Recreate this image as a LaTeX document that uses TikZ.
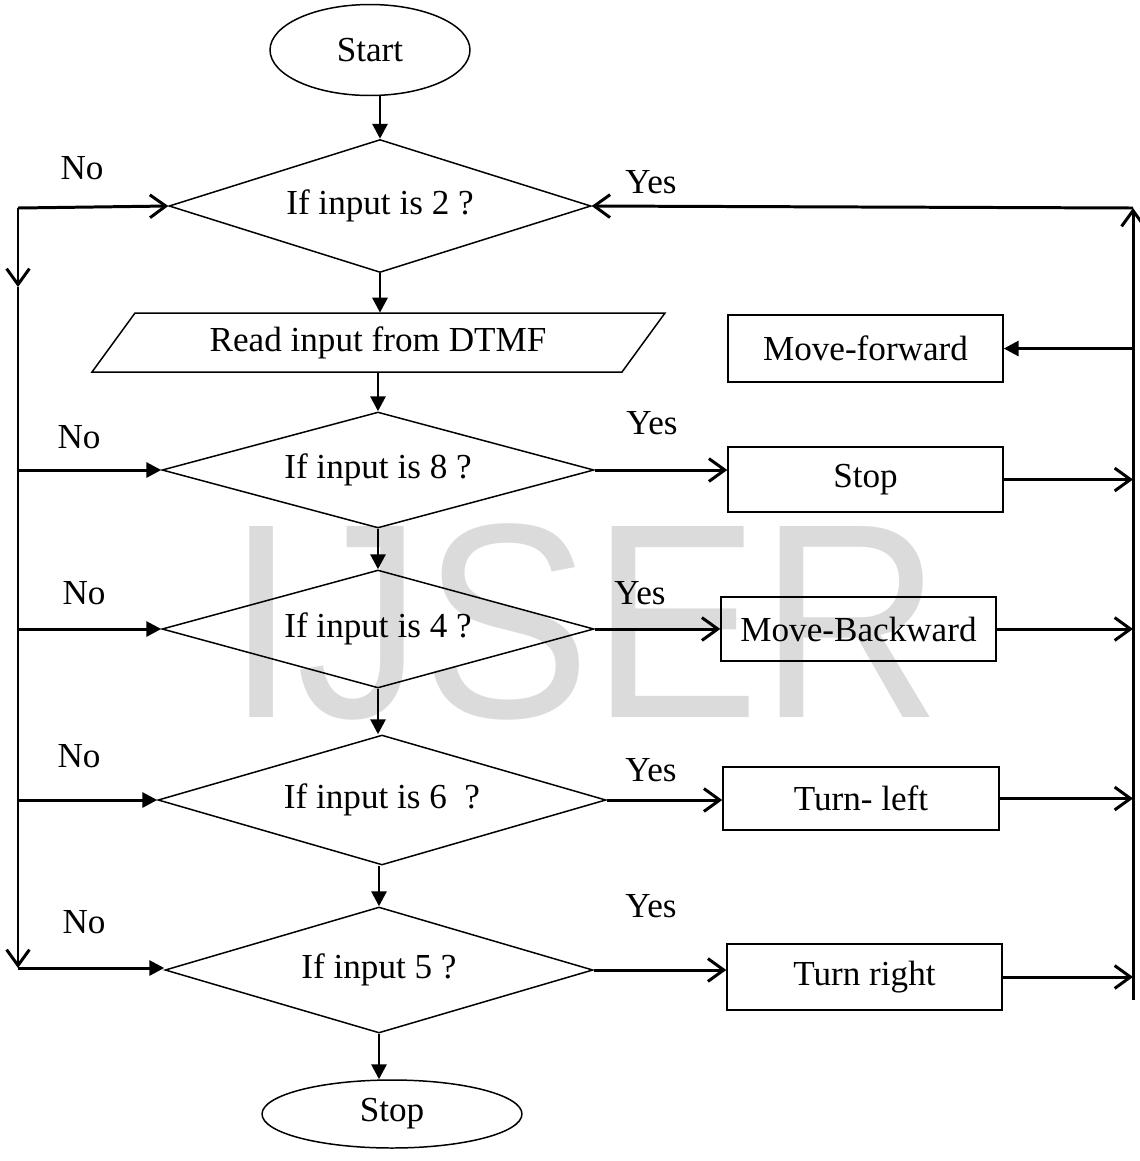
\documentclass[tikz,border=0pt]{standalone}
\usepackage{fontspec}
\setmainfont{Liberation Serif}
\newfontfamily\wmfont{Liberation Sans}
\usetikzlibrary{shapes.geometric,arrows.meta}
\begin{document}
\begin{tikzpicture}[x=0.02cm,y=-0.02cm,
  every node/.style={font=\fontsize{20}{23}\selectfont},
  outline/.style={draw=black,line width=0.85pt,inner sep=0pt},
  termbox/.style={outline,ellipse},
  decbox/.style={outline,diamond,aspect=3.3},
  procbox/.style={outline,rectangle,minimum width=5.5cm},
  wire/.style={line width=1.7pt},
  openarr/.style={wire,-{Straight Barb[length=9pt,width=13pt,line width=1.7pt]}},
  fillarr/.style={wire,-{Triangle[length=8.5pt,width=8.5pt]}},
  lbl/.style={inner sep=0pt}
]
\useasboundingbox (0,0) rectangle (1140,1161);
% watermark
\node[font=\wmfont\fontsize{158}{160}\selectfont,text=black!14,inner sep=0pt,xscale=0.91] (wm) at (584,622) {IJSER};

% terminals
\node[termbox,minimum width=4cm,minimum height=1.82cm] (start) at (370,50) {Start};
\node[termbox,minimum width=5.2cm,minimum height=1.36cm] (stop) at (392,1114) {Stop};

% decisions
\node[decbox,minimum width=8.44cm,minimum height=2.66cm] (d1) at (380,206) {If input is 2 ?};
\node[decbox,minimum width=8.64cm,minimum height=2.32cm] (d2) at (378,470) {If input is 8 ?};
\node[decbox,minimum width=8.64cm,minimum height=2.36cm] (d3) at (378,629) {If input is 4 ?};
\node[decbox,minimum width=8.96cm,minimum height=2.60cm] (d4) at (382,800) {If input is 6~~?};
\node[decbox,minimum width=8.56cm,minimum height=2.52cm] (d5) at (379,970) {If input 5 ?};

% input parallelogram
\draw[line width=0.85pt] (135,313) -- (665,313) -- (622,372) -- (92,372) -- cycle;
\node[inner sep=0pt,minimum height=1.18cm] (read) at (378,342.5) {Read input from DTMF};

% process boxes
\node[procbox,minimum height=1.34cm] (mf) at (865.5,348.5) {Move-forward};
\node[procbox,minimum height=1.30cm] (sb) at (865.5,479.5) {Stop};
\node[procbox,minimum height=1.28cm] (mb) at (858.5,629) {Move-Backward};
\node[procbox,minimum width=5.52cm,minimum height=1.26cm] (tl) at (861,798.5) {Turn- left};
\node[procbox,minimum height=1.32cm] (tr) at (864.5,977) {Turn right};

% main flow
\draw[fillarr] (start.south -| d1.north) -- (d1.north);
\draw[fillarr] (d1.south) -- (d1.south |- read.north);
\draw[fillarr] (read.south) -- (d2.north);
\draw[fillarr] (d2.south) -- (d3.north);
\draw[fillarr] (d3.south) -- (d3.south |- d4.north);
\draw[fillarr] (d4.south -| d5.north) -- (d5.north);
\draw[fillarr] (d5.south) -- (d5.south |- stop.north);

% yes branches
\draw[openarr] (d2.east) -- (d2.east -| sb.west);
\draw[openarr] (d3.east) -- (d3.east -| mb.west);
\draw[openarr] (d4.east) -- (d4.east -| tl.west);
\draw[openarr] (d5.east) -- (d5.east -| tr.west);

% right bus
\coordinate (rt) at (1133,208);
\coordinate (rb) at (1133,1000);
\draw[openarr] (rb) -- (rt);
\draw[openarr] (rt) -- (d1.east);
\draw[fillarr] (mf.east -| rt) -- (mf.east);
\draw[openarr] (sb.east) -- (sb.east -| rt);
\draw[openarr] (mb.east) -- (mb.east -| rt);
\draw[openarr] (tl.east) -- (tl.east -| rt);
\draw[openarr] (tr.east) -- (tr.east -| rt);

% left bus
\coordinate (lt) at (18,208);
\coordinate (lm) at (18,287);
\coordinate (lb) at (18,968);
\draw[openarr] (lt) -- (d1.west);
\draw[openarr] (lt) -- (lm);
\draw[openarr] (lm) -- (lb);
\draw[fillarr] (lb) -- (lb -| d5.west);
\draw[fillarr] (lt |- d2.west) -- (d2.west);
\draw[fillarr] (lt |- d3.west) -- (d3.west);
\draw[fillarr] (lt |- d4.west) -- (d4.west);

% labels
\node[lbl] (no1) at (82,168) {No};
\node[lbl] (no2) at (79,437) {No};
\node[lbl] (no3) at (84,593) {No};
\node[lbl] (no4) at (79,756) {No};
\node[lbl] (no5) at (84,922) {No};
\node[lbl] (yes1) at (651,182) {Yes};
\node[lbl] (yes2) at (652,423) {Yes};
\node[lbl] (yes3) at (640,593) {Yes};
\node[lbl] (yes4) at (651,770) {Yes};
\node[lbl] (yes5) at (651,906) {Yes};
\end{tikzpicture}
\end{document}
